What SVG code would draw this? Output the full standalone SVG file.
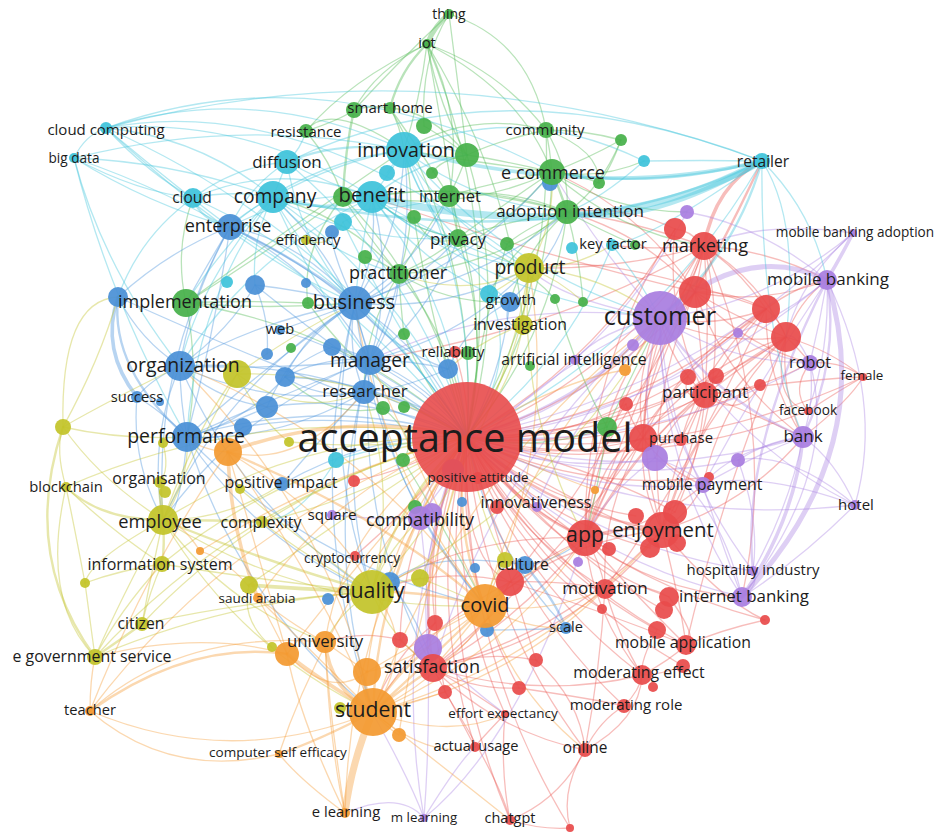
<svg xmlns="http://www.w3.org/2000/svg" width="937" height="832" viewBox="0 0 937 832">
<style>
.bg{fill:#ffffff}
#edges path{fill:none;stroke-width:1.3;stroke-opacity:.4;stroke-linecap:round}
#edges .w2{stroke-width:2.4}
#edges .w3{stroke-width:3.6}
#edges .w4{stroke-width:5}
#edges .w5{stroke-width:7}
.er{stroke:#ec5a55}.eg{stroke:#4fba52}.eb{stroke:#4b93dc}.ec{stroke:#43c6dd}.ey{stroke:#c2c32c}.eo{stroke:#f59d3a}.ep{stroke:#ad86e3}
circle{fill-opacity:.93}
.r circle{fill:#e84b4b}.g circle{fill:#47b04a}.b circle{fill:#4a90d6}.c circle{fill:#3ec3da}.y circle{fill:#c3c42a}.o circle{fill:#f39a32}.p circle{fill:#a97ee0}
text{font-family:"Open Sans","Liberation Sans",sans-serif;fill:#1c1c1c;text-anchor:middle}
</style>
<rect class="bg" width="937" height="832"/>

<g id="edges">
<g class="er">
<path d="M467 437Q614 377 704 246"/><path d="M467 437Q636 418 766 309"/><path d="M467 437Q641 435 786 337"/><path d="M467 437Q592 452 705 395"/>
<path class="w2" d="M467 437Q550 513 662 530"/><path class="w2" d="M467 437Q511 505 585 538"/><path d="M467 437Q546 573 686 645"/><path d="M467 437Q519 582 642 675"/>
<path d="M467 437Q505 595 624 706"/><path d="M467 437Q480 611 585 750"/><path d="M467 437Q431 634 510 820"/><path d="M467 437Q444 581 505 714"/>
<path d="M467 437Q425 593 475 747"/><path d="M467 437Q513 534 605 589"/><path class="w2" d="M467 437Q415 547 433 668"/><path d="M467 437Q674 466 863 377"/>
<path d="M467 437Q641 475 808 411"/><path d="M467 437Q603 399 695 292"/><path d="M467 437Q574 470 681 440"/><path d="M467 437Q555 464 643 438"/>
<path d="M467 437Q551 444 626 404"/><path d="M467 437Q560 560 669 597"/><path d="M467 437Q520 610 536 660"/><path d="M467 437Q540 500 636 516"/>
<path d="M467 437Q600 360 675 229"/><path d="M467 437Q460 560 510 582"/><path d="M467 437Q600 520 677 543"/><path d="M467 437Q600 470 675 512"/>
<path d="M467 437Q586 440 688 377"/><path d="M467 437Q601 444 716 376"/><path d="M467 437Q621 455 760 385"/><path d="M467 437Q582 493 709 477"/>
<path d="M467 437Q542 520 650 548"/><path d="M467 437Q521 514 609 549"/><path d="M467 437Q533 562 657 630"/><path d="M467 437Q541 584 683 666"/>
<path d="M467 437Q588 573 765 620"/><path d="M467 437Q423 525 435 623"/><path d="M467 437Q403 528 400 640"/><path d="M467 437Q418 561 445 692"/>
<path d="M467 437Q455 570 519 688"/><path d="M467 437Q460 648 570 828"/><path d="M467 437Q570 560 664 610"/><path d="M467 437Q520 560 602 609"/>
<path d="M660 318Q693 289 704 246"/><path d="M660 318Q629 424 662 530"/><path d="M660 318Q590 417 585 538"/><path d="M660 318Q681 310 695 292"/>
<path d="M660 318Q714 329 766 309"/><path d="M660 318Q720 346 786 337"/><path d="M660 318Q671 363 705 395"/><path d="M660 318Q633 375 643 438"/>
<path d="M827 280Q798 302 786 337"/><path d="M827 280Q798 285 766 309"/><path d="M827 280Q770 250 704 246"/>
<path d="M803 437Q745 410 705 395"/><path d="M803 437Q850 400 863 377"/><path d="M810 363Q790 390 808 411"/><path d="M810 363Q760 390 705 395"/><path d="M810 363Q840 360 863 377"/>
<path class="w3" d="M762 161Q715 185 704 246"/><path class="w2" d="M762 161Q730 230 695 292"/><path d="M567 212Q630 220 704 246"/>
<path class="w2" d="M585 538Q620 525 662 530"/><path d="M585 538Q600 560 605 589"/><path d="M585 538Q640 600 686 645"/><path d="M585 538Q600 545 609 549"/>
<path d="M585 538Q540 560 510 582"/><path d="M585 538Q520 620 433 668"/><path d="M662 530Q640 560 605 589"/><path d="M662 530Q680 600 686 645"/>
<path d="M662 530Q660 520 675 512"/><path d="M662 530Q650 540 650 548"/><path d="M662 530Q720 600 765 620"/><path d="M605 589Q620 640 642 675"/>
<path d="M605 589Q600 670 585 750"/><path d="M605 589Q640 580 669 597"/><path d="M686 645Q670 660 642 675"/><path d="M686 645Q720 630 765 620"/>
<path d="M642 675Q640 690 624 706"/><path d="M642 675Q660 675 683 666"/><path d="M624 706Q600 720 585 750"/><path d="M585 750Q560 790 570 828"/>
<path d="M585 750Q560 800 510 820"/><path d="M510 820Q540 830 570 828"/><path d="M505 714Q480 740 475 747"/><path d="M505 714Q470 690 433 668"/>
<path d="M505 714Q500 770 510 820"/><path d="M433 668Q450 700 475 747"/><path d="M433 668Q480 650 536 660"/><path d="M433 668Q470 690 519 688"/>
<path d="M433 668Q420 640 435 623"/><path d="M433 668Q410 650 400 640"/><path d="M510 582Q560 580 605 589"/><path d="M510 582Q600 610 686 645"/>
<path d="M433 668Q540 700 642 675"/><path d="M433 668Q530 650 605 589"/><path d="M536 660Q580 700 585 750"/><path d="M519 688Q600 700 624 706"/>
<path d="M445 692Q500 780 510 820"/><path d="M585 750Q640 720 642 675"/><path d="M669 597Q700 640 686 645"/><path d="M657 630Q640 660 642 675"/>
<path d="M704 246Q690 230 675 229"/><path d="M704 246Q700 270 695 292"/><path d="M704 246Q740 270 766 309"/><path d="M704 246Q760 280 786 337"/>
<path d="M704 246Q640 250 612 245"/><path d="M704 246Q620 270 529 268"/><path d="M704 246Q710 320 705 395"/><path d="M695 292Q730 290 766 309"/>
<path d="M695 292Q740 320 786 337"/><path d="M695 292Q700 340 705 395"/><path d="M766 309Q780 320 786 337"/><path d="M786 337Q800 350 810 363"/>
<path d="M786 337Q830 350 863 377"/><path d="M786 337Q750 360 705 395"/><path d="M786 337Q770 400 808 411"/><path d="M705 395Q690 420 681 440"/>
<path d="M705 395Q680 400 688 377"/><path d="M705 395Q710 380 716 376"/><path d="M705 395Q650 420 643 438"/><path d="M643 438Q660 440 681 440"/>
<path d="M643 438Q630 420 626 404"/><path d="M675 512Q700 460 705 395"/><path d="M585 538Q600 450 643 438"/><path d="M585 538Q650 430 705 395"/>
<path d="M662 530Q690 460 705 395"/><path d="M585 538Q640 390 704 246"/><path d="M662 530Q740 390 704 246"/><path d="M808 411Q840 390 863 377"/>
<path d="M705 395Q790 380 863 377"/><path d="M695 292Q520 250 372 197"/><path d="M766 309Q600 250 529 268"/><path d="M704 246Q560 330 370 360"/>
<path d="M355 556Q420 500 467 437"/><path d="M354 481Q410 470 467 437"/><path d="M455 352Q470 400 467 437"/><path d="M760 385Q740 420 705 395"/>
<path d="M695 292Q603 398 585 538"/><path d="M695 292Q643 406 662 530"/><path d="M695 292Q647 357 643 438"/><path d="M695 292Q727 381 803 437"/>
<path d="M695 292Q742 345 810 363"/><path d="M695 292Q763 306 827 280"/><path d="M695 292Q643 233 567 212"/><path d="M695 292Q641 210 552 172"/>
<path d="M766 309Q641 396 585 538"/><path d="M766 309Q681 404 662 530"/><path d="M766 309Q765 379 803 437"/><path d="M766 309Q685 355 643 438"/>
<path d="M766 309Q704 362 681 440"/><path d="M786 337Q655 407 585 538"/><path d="M786 337Q695 415 662 530"/><path d="M786 337Q699 366 643 438"/>
<path d="M786 337Q722 399 703 485"/><path d="M786 337Q780 390 803 437"/><path d="M643 438Q599 479 585 538"/><path d="M643 438Q639 487 662 530"/>
<path d="M643 438Q666 470 703 485"/><path d="M643 438Q601 508 605 589"/><path d="M585 538Q655 591 742 597"/><path d="M585 538Q652 529 703 485"/>
<path d="M585 538Q593 615 642 675"/><path d="M662 530Q689 514 703 485"/><path d="M662 530Q746 505 803 437"/><path d="M433 668Q484 636 510 582"/>
<path d="M433 668Q568 633 662 530"/><path d="M433 668Q497 732 585 750"/><path d="M510 582Q440 566 372 592"/><path d="M510 582Q422 626 373 712"/>
<path d="M435 623Q391 658 373 712"/><path d="M400 640Q362 630 325 642"/><path d="M585 538Q470 533 372 592"/><path d="M662 530Q562 541 485 606"/>
<path d="M704 246Q645 333 643 438"/><path d="M675 229Q584 370 585 538"/><path d="M675 229Q624 204 567 212"/><path d="M675 229Q665 317 705 395"/>
<path d="M705 395Q671 419 655 458"/><path d="M626 404Q585 465 585 538"/><path d="M704 246Q660 380 585 538"/><path d="M766 309Q690 470 605 589"/>
<path d="M704 246Q780 420 742 597"/><path d="M786 337Q720 500 686 645"/><path d="M695 292Q600 470 510 582"/><path d="M643 438Q560 560 433 668"/>
</g>

<g class="ep">
<path class="w2" d="M467 437Q581 406 660 318"/><path d="M467 437Q635 487 803 437"/><path d="M467 437Q670 412 827 280"/><path d="M467 437Q650 451 810 363"/>
<path d="M467 437Q578 496 703 485"/><path d="M467 437Q580 558 742 597"/><path d="M467 437Q431 470 420 518"/><path d="M467 437Q588 546 753 571"/>
<path d="M467 437Q651 529 855 505"/><path d="M467 437Q389 621 424 818"/><path d="M467 437Q691 393 853 233"/><path d="M467 437Q520 470 537 507"/>
<path d="M467 437Q611 358 687 212"/><path d="M467 437Q564 416 633 345"/><path d="M467 437Q618 426 738 333"/><path d="M467 437Q599 489 738 460"/>
<path d="M467 437Q558 476 655 458"/><path d="M467 437Q416 537 428 648"/>
<path class="w4" d="M827 280Q745 240 660 318"/><path class="w2" d="M660 318Q714 399 803 437"/><path d="M660 318Q728 363 810 363"/><path d="M660 318Q659 470 742 597"/>
<path d="M660 318Q729 441 855 505"/><path d="M660 318Q657 408 703 485"/><path d="M660 318Q667 458 753 571"/><path d="M660 318Q494 459 433 668"/>
<path d="M660 318Q509 296 370 360"/><path d="M660 318Q510 382 420 518"/><path d="M660 318Q769 304 853 233"/><path d="M660 318Q636 387 655 458"/>
<path d="M660 318Q600 330 575 360"/><path d="M660 318Q640 330 633 345"/><path d="M660 318Q560 300 529 268"/><path d="M660 318Q600 250 552 172"/>
<path class="w4" d="M827 280Q880 450 742 597"/><path class="w2" d="M827 280Q840 360 803 437"/><path d="M827 280Q820 322 810 363"/><path class="w3" d="M827 280Q843 253 853 233"/>
<path d="M827 280Q885 400 855 505"/><path d="M827 280Q830 350 808 411"/><path class="w2" d="M827 280Q740 450 753 571"/><path d="M827 280Q760 380 703 485"/>
<path d="M827 280Q760 225 687 212"/><path d="M827 280Q785 315 738 333"/><path d="M803 437Q815 400 810 363"/><path d="M803 437Q835 460 855 505"/>
<path class="w3" d="M803 437Q795 520 742 597"/><path d="M803 437Q790 505 753 571"/><path d="M803 437Q755 455 703 485"/><path d="M803 437Q770 440 738 460"/>
<path d="M810 363Q795 330 786 337"/><path d="M810 363Q760 355 738 333"/><path d="M855 505Q800 560 742 597"/><path d="M855 505Q790 450 738 460"/>
<path d="M855 505Q760 470 703 485"/><path d="M853 233Q800 280 786 337"/><path d="M853 233Q760 220 704 246"/><path d="M742 597Q760 585 753 571"/>
<path d="M424 818Q430 740 428 648"/><path d="M424 818Q460 760 475 747"/><path d="M424 818Q520 740 585 538"/><path d="M428 648Q430 600 420 518"/>
<path d="M428 648Q460 680 505 714"/><path d="M345 813Q400 790 424 818"/><path d="M372 712Q410 780 424 818"/><path d="M420 518Q380 520 332 515"/>
<path d="M655 458Q690 470 703 485"/><path d="M655 458Q600 500 585 538"/><path d="M703 485Q720 540 742 597"/><path d="M810 363Q840 470 742 597"/>
<path d="M655 458Q720 500 742 597"/><path d="M660 318Q560 440 537 507"/><path d="M738 460Q760 520 753 571"/><path d="M703 485Q730 450 803 437"/>
</g>

<g class="eg">
<path d="M467 437Q549 317 552 172"/><path d="M467 437Q551 339 567 212"/><path d="M467 437Q347 328 186 303"/><path d="M467 437Q478 261 390 108"/>
<path d="M467 437Q494 314 449 196"/><path d="M467 437Q492 336 458 238"/><path d="M467 437Q457 345 399 274"/><path d="M467 437Q553 295 546 130"/>
<path d="M467 437Q506 234 427 44"/><path d="M467 437Q509 296 467 155"/><path d="M467 437Q441 298 343 197"/><path d="M467 437Q538 453 607 427"/>
<path d="M467 437Q480 330 507 244"/><path d="M467 437Q430 320 414 217"/><path d="M467 437Q420 380 404 334"/><path d="M467 437Q370 390 308 303"/>
<path class="w4" d="M449 14Q435 25 427 44"/><path class="w2" d="M427 44Q400 70 390 108"/><path d="M427 44Q375 70 354 110"/><path d="M427 44Q420 100 404 150"/>
<path d="M427 44Q440 110 467 155"/><path d="M427 44Q465 120 449 196"/><path d="M427 44Q520 90 552 172"/><path d="M427 44Q500 70 546 130"/>
<path d="M449 14Q530 40 546 130"/><path d="M449 14Q460 100 467 155"/><path d="M449 14Q400 60 354 110"/><path d="M449 14Q420 60 424 126"/>
<path d="M427 44Q350 80 306 131"/><path d="M427 44Q455 200 458 238"/><path d="M427 44Q510 180 523 325"/><path d="M390 108Q370 105 354 110"/>
<path d="M354 110Q340 120 306 131"/><path class="w2" d="M354 110Q345 150 343 197"/><path d="M390 108Q400 125 404 150"/><path d="M390 108Q420 150 449 196"/>
<path d="M390 108Q430 110 467 155"/><path d="M424 126Q440 135 467 155"/><path d="M546 130Q550 150 552 172"/><path d="M546 130Q585 130 621 140"/>
<path d="M546 130Q500 140 467 155"/><path d="M546 130Q570 170 567 212"/><path d="M546 130Q600 150 599 183"/><path d="M621 140Q610 170 599 183"/>
<path d="M621 140Q600 190 567 212"/><path d="M621 140Q585 160 552 172"/><path class="w2" d="M552 172Q560 190 567 212"/><path d="M552 172Q580 175 599 183"/>
<path d="M552 172Q500 160 467 155"/><path d="M552 172Q500 180 449 196"/><path d="M552 172Q510 200 458 238"/><path d="M567 212Q510 220 458 238"/>
<path d="M567 212Q600 230 635 245"/><path d="M567 212Q530 225 507 244"/><path d="M567 212Q450 180 372 197"/><path d="M467 155Q460 175 449 196"/>
<path d="M467 155Q440 160 432 173"/><path d="M449 196Q455 220 458 238"/><path d="M458 238Q430 260 399 274"/><path d="M399 274Q380 260 365 257"/>
<path d="M399 274Q420 240 449 196"/><path d="M343 197Q370 240 399 274"/><path d="M343 197Q330 160 306 131"/><path d="M186 303Q240 300 308 303"/>
<path d="M186 303Q270 310 355 303"/><path d="M186 303Q200 370 187 437"/><path d="M186 303Q270 250 343 197"/><path d="M186 303Q300 220 404 150"/>
<path d="M546 130Q470 110 404 150"/><path d="M404 150Q460 160 552 172"/><path d="M372 197Q470 180 567 212"/><path d="M404 150Q330 100 306 131"/>
<path d="M607 427Q580 380 555 299"/><path d="M458 238Q520 260 555 299"/><path d="M567 212Q580 260 583 302"/><path d="M399 274Q400 300 404 334"/>
<path d="M414 217Q430 250 458 238"/><path d="M383 408Q420 440 403 460"/>
<path d="M399 274Q420 213 404 150"/><path d="M399 274Q348 217 273 197"/><path d="M399 274Q450 305 510 302"/><path d="M399 274Q364 328 364 392"/>
<path d="M399 274Q492 268 567 212"/><path d="M399 274Q491 246 552 172"/><path d="M567 212Q516 241 489 294"/><path d="M567 212Q525 249 510 302"/>
<path d="M567 212Q506 186 449 196"/><path d="M552 172Q600 180 644 161"/><path d="M552 172Q614 212 687 212"/><path d="M552 172Q617 232 704 246"/>
<path d="M552 172Q466 212 372 197"/><path d="M458 238Q409 230 372 197"/><path d="M186 303Q174 250 193 198"/><path d="M607 427Q630 380 660 318"/>
<path d="M607 427Q600 480 585 538"/><path d="M403 460Q440 520 485 606"/><path d="M383 408Q330 420 285 377"/><path d="M343 197Q300 250 308 303"/>
</g>

<g class="eb">
<path d="M467 437Q430 384 370 360"/><path d="M467 437Q431 353 355 303"/><path d="M467 437Q327 395 187 437"/><path d="M467 437Q334 358 180 366"/>
<path d="M467 437Q380 296 230 227"/><path d="M467 437Q501 376 510 302"/><path d="M467 437Q422 399 364 392"/><path d="M467 437Q384 380 285 377"/>
<path d="M467 437Q371 392 267 407"/><path d="M467 437Q412 372 332 347"/><path d="M467 437Q488 547 566 628"/><path d="M467 437Q380 430 282 484"/>
<path d="M467 437Q360 370 255 285"/><path d="M467 437Q380 360 280 330"/><path d="M467 437Q340 410 243 427"/><path d="M467 437Q300 380 118 297"/>
<path class="w3" d="M118 297Q100 350 137 397"/><path class="w2" d="M118 297Q110 370 187 437"/><path d="M118 297Q140 340 180 366"/><path d="M118 297Q170 250 230 227"/>
<path class="w2" d="M230 227Q300 260 355 303"/><path d="M230 227Q190 300 180 366"/><path d="M230 227Q215 330 187 437"/><path d="M230 227Q210 260 186 303"/>
<path d="M355 303Q360 330 370 360"/><path d="M355 303Q300 290 255 285"/><path d="M355 303Q310 320 280 330"/><path d="M355 303Q260 320 180 366"/>
<path d="M355 303Q260 370 187 437"/><path d="M355 303Q300 240 230 227"/><path d="M370 360Q365 375 364 392"/><path d="M370 360Q350 350 332 347"/>
<path d="M370 360Q280 370 180 366"/><path d="M370 360Q270 400 187 437"/><path d="M370 360Q410 360 448 369"/><path d="M180 366Q180 400 187 437"/>
<path d="M180 366Q150 380 137 397"/><path d="M187 437Q160 410 137 397"/><path d="M187 437Q240 420 267 407"/><path d="M187 437Q230 440 243 427"/>
<path d="M255 285Q270 320 267 354"/><path d="M285 377Q300 360 332 347"/><path d="M364 392Q320 400 285 377"/><path d="M510 302Q500 330 523 325"/>
<path d="M448 369Q400 390 364 392"/><path d="M364 392Q320 440 282 484"/><path d="M390 582Q430 550 525 565"/><path d="M487 630Q530 630 566 628"/>
<path class="w2" d="M566 628Q555 600 525 565"/><path d="M355 303Q330 250 332 232"/><path d="M180 366Q230 330 255 285"/><path d="M187 437Q180 520 163 520"/>
<path d="M355 303Q402 234 404 150"/><path d="M355 303Q379 252 372 197"/><path d="M355 303Q381 295 399 274"/><path d="M355 303Q416 286 458 238"/>
<path d="M355 303Q447 312 529 268"/><path d="M355 303Q346 349 364 392"/><path d="M355 303Q392 350 448 369"/><path d="M355 303Q308 329 285 377"/>
<path d="M355 303Q295 342 267 407"/><path d="M355 303Q226 383 163 520"/><path d="M355 303Q320 450 372 592"/><path d="M355 303Q374 474 485 606"/>
<path d="M355 303Q302 510 373 712"/><path d="M355 303Q418 264 449 196"/><path d="M355 303Q474 289 567 212"/><path d="M355 303Q473 267 552 172"/>
<path d="M370 360Q395 279 372 197"/><path d="M370 360Q418 260 404 150"/><path d="M370 360Q346 264 273 197"/><path d="M370 360Q397 321 399 274"/>
<path d="M370 360Q432 312 458 238"/><path d="M370 360Q463 338 529 268"/><path d="M370 360Q324 356 285 377"/><path d="M370 360Q242 409 163 520"/>
<path d="M370 360Q336 476 372 592"/><path d="M370 360Q320 272 230 227"/><path d="M370 360Q319 536 373 712"/><path d="M370 360Q391 500 485 606"/>
<path d="M370 360Q355 523 433 668"/><path d="M180 366Q148 440 163 520"/><path d="M180 366Q242 508 372 592"/><path d="M180 366Q217 400 267 407"/>
<path d="M180 366Q268 407 364 392"/><path d="M187 437Q256 542 372 592"/><path d="M187 437Q310 566 485 606"/><path d="M187 437Q239 602 373 712"/>
<path d="M187 437Q282 441 364 392"/><path d="M187 437Q245 422 285 377"/><path d="M230 227Q152 364 163 520"/><path d="M137 397Q131 462 163 520"/>
<path d="M510 302Q560 250 567 212"/><path d="M448 369Q470 320 510 302"/><path d="M525 565Q560 560 585 538"/><path d="M390 582Q420 620 433 668"/>
</g>

<g class="ec">
<path d="M467 437Q478 284 404 150"/><path d="M467 437Q455 303 372 197"/><path d="M467 437Q406 288 273 197"/><path d="M467 437Q656 343 762 161"/>
<path d="M467 437Q567 363 612 245"/><path d="M467 437Q366 276 193 198"/><path d="M467 437Q418 272 287 162"/><path d="M467 437Q333 228 106 128"/>
<path d="M467 437Q312 239 74 158"/><path d="M467 437Q400 440 336 460"/><path d="M467 437Q520 360 489 294"/><path d="M467 437Q380 300 343 222"/>
<path class="w5" d="M762 161Q600 250 372 197"/><path class="w4" d="M762 161Q640 230 567 212"/><path class="w3" d="M762 161Q600 200 404 150"/><path class="w2" d="M762 161Q560 260 273 197"/>
<path class="w2" d="M762 161Q650 190 552 172"/><path class="w2" d="M660 318Q735 255 762 161"/><path d="M762 161Q800 220 786 337"/><path d="M762 161Q812 210 827 280"/>
<path d="M762 161Q760 330 803 437"/><path d="M762 161Q700 160 644 161"/><path d="M762 161Q650 240 612 245"/><path d="M762 161Q434 40 106 128"/>
<path d="M106 128Q320 50 552 172"/><path d="M106 128Q255 81 404 150"/><path d="M106 128Q200 137 273 197"/><path d="M106 128Q251 117 372 197"/>
<path d="M106 128Q85 135 74 158"/><path d="M106 128Q150 175 193 198"/><path d="M106 128Q182 192 230 227"/><path d="M106 128Q250 260 355 303"/>
<path d="M74 158Q176 162 273 197"/><path d="M74 158Q137 192 193 198"/><path d="M74 158Q241 116 404 150"/><path d="M74 158Q150 205 230 227"/>
<path d="M74 158Q103 268 180 366"/><path d="M74 158Q110 302 187 437"/><path d="M762 161Q500 60 287 162"/><path d="M106 128Q300 90 529 268"/>
<path class="w2" d="M287 162Q340 140 404 150"/><path d="M287 162Q280 180 273 197"/><path d="M287 162Q330 185 372 197"/><path class="w2" d="M273 197Q320 215 372 197"/>
<path d="M273 197Q230 190 193 198"/><path d="M273 197Q340 160 404 150"/><path class="w2" d="M193 198Q200 220 230 227"/><path d="M193 198Q280 160 372 197"/>
<path d="M372 197Q395 165 404 150"/><path d="M372 197Q420 160 467 155"/><path d="M404 150Q430 140 467 155"/><path d="M372 197Q360 250 355 303"/>
<path d="M273 197Q310 260 355 303"/><path d="M273 197Q240 215 230 227"/><path d="M273 197Q320 300 370 360"/><path d="M404 150Q520 100 644 161"/>
<path d="M372 197Q460 250 529 268"/><path d="M273 197Q220 250 186 303"/><path d="M273 197Q200 280 180 366"/><path d="M372 197Q360 215 343 222"/>
<path d="M404 150Q395 160 387 173"/><path d="M489 294Q500 300 510 302"/><path d="M644 161Q600 200 567 212"/>
<path d="M273 197Q194 304 187 437"/><path d="M273 197Q359 245 458 238"/><path d="M273 197Q325 254 399 274"/><path d="M273 197Q361 223 449 196"/>
<path d="M273 197Q251 238 255 285"/><path d="M404 150Q449 228 529 268"/><path d="M404 150Q418 202 458 238"/><path d="M404 150Q476 205 567 212"/>
<path d="M404 150Q305 162 230 227"/><path d="M404 150Q507 272 660 318"/><path d="M404 150Q434 242 510 302"/><path d="M372 197Q440 256 529 268"/>
<path d="M372 197Q409 230 458 238"/><path d="M372 197Q296 191 230 227"/><path d="M372 197Q251 253 180 366"/><path d="M372 197Q425 270 510 302"/>
<path d="M372 197Q498 301 660 318"/><path d="M287 162Q249 186 230 227"/><path d="M287 162Q300 243 355 303"/><path d="M287 162Q235 166 193 198"/>
<path d="M287 162Q301 149 306 131"/><path d="M193 198Q140 236 118 297"/><path d="M336 460Q300 520 262 522"/><path d="M612 245Q640 280 660 318"/>
</g>

<g class="ey">
<path class="w2" d="M467 437Q396 500 372 592"/><path d="M467 437Q302 433 163 520"/><path d="M467 437Q523 362 529 268"/><path d="M467 437Q248 491 95 657"/>
<path d="M467 437Q295 455 162 564"/><path d="M467 437Q259 402 66 487"/><path d="M467 437Q276 482 142 624"/><path d="M467 437Q512 389 523 325"/>
<path d="M467 437Q361 371 237 374"/><path d="M467 437Q380 450 289 442"/><path d="M467 437Q450 520 420 578"/><path d="M467 437Q480 520 505 560"/>
<path d="M467 437Q340 520 249 585"/><path d="M467 437Q360 500 262 522"/>
<path class="w3" d="M163 520Q160 500 160 482"/><path class="w2" d="M163 520Q100 520 66 487"/><path class="w2" d="M163 520Q165 545 162 564"/><path class="w2" d="M163 520Q220 520 262 522"/>
<path class="w2" d="M163 520Q260 560 372 592"/><path d="M163 520Q190 480 187 437"/><path d="M163 520Q200 420 237 374"/><path d="M163 520Q90 560 85 583"/>
<path d="M163 520Q120 600 95 657"/><path d="M163 520Q150 580 142 624"/><path d="M66 487Q55 450 63 427"/><path d="M66 487Q75 530 85 583"/>
<path d="M66 487Q110 530 162 564"/><path class="w2" d="M63 427Q20 555 95 657"/><path d="M63 427Q110 400 180 366"/><path d="M63 427Q120 440 187 437"/>
<path d="M63 427Q100 480 163 520"/><path d="M63 427Q100 360 118 297"/><path class="w2" d="M95 657Q120 640 142 624"/><path d="M95 657Q90 620 85 583"/>
<path d="M95 657Q120 610 162 564"/><path d="M85 583Q120 570 162 564"/><path d="M142 624Q150 590 162 564"/><path d="M142 624Q250 600 372 592"/>
<path d="M95 657Q230 600 372 592"/><path d="M162 564Q260 580 372 592"/><path class="w3" d="M372 592Q320 590 249 585"/><path d="M372 592Q310 560 262 522"/>
<path d="M372 592Q400 580 420 578"/><path d="M372 592Q380 560 420 518"/><path d="M372 592Q300 540 240 489"/><path d="M237 374Q260 420 289 442"/>
<path d="M237 374Q200 440 163 520"/><path d="M529 268Q525 300 523 325"/><path d="M529 268Q560 280 583 302"/><path d="M529 268Q500 290 489 294"/>
<path d="M529 268Q470 300 399 274"/><path d="M523 325Q480 340 448 369"/><path d="M505 560Q490 580 485 606"/><path d="M420 578Q450 590 485 606"/>
<path d="M249 585Q240 620 272 647"/><path d="M660 318Q602 273 529 268"/><path d="M163 443Q170 470 160 482"/><path d="M306 240Q330 250 343 222"/>
<path d="M163 520Q239 648 373 712"/><path d="M163 520Q226 605 325 642"/><path d="M163 520Q311 611 485 606"/><path d="M163 520Q228 520 282 484"/>
<path d="M372 592Q398 491 364 392"/><path d="M372 592Q499 454 529 268"/><path d="M372 592Q557 498 660 318"/><path d="M372 592Q391 639 433 668"/>
<path d="M372 592Q341 610 325 642"/><path d="M529 268Q555 224 552 172"/><path d="M529 268Q517 411 585 538"/><path d="M529 268Q574 269 612 245"/>
<path d="M237 374Q300 330 355 303"/><path d="M237 374Q300 420 364 392"/><path d="M63 427Q60 300 118 297"/><path d="M66 487Q40 600 95 657"/>
</g>

<g class="eo">
<path class="w2" d="M467 437Q378 560 373 712"/><path class="w2" d="M467 437Q451 524 485 606"/><path d="M467 437Q344 518 325 642"/><path d="M467 437Q350 606 345 813"/>
<path d="M467 437Q338 486 258 598"/><path d="M467 437Q237 517 90 711"/><path class="w3" d="M467 437Q345 409 228 452"/><path d="M467 437Q382 540 367 672"/>
<path d="M660 318Q457 472 373 712"/><path d="M660 318Q529 436 485 606"/><path d="M467 437Q540 470 595 490"/><path d="M467 437Q560 380 625 370"/>
<path d="M467 437Q360 560 287 654"/><path d="M467 437Q410 650 399 735"/><path d="M467 437Q330 600 279 754"/><path d="M467 437Q330 470 200 551"/>
<path class="w5" d="M373 712Q352 760 345 813"/><path class="w3" d="M373 712Q330 690 325 642"/><path class="w3" d="M373 712Q320 680 287 654"/><path class="w3" d="M373 712Q360 690 367 672"/>
<path class="w2" d="M373 712Q320 740 279 754"/><path class="w2" d="M90 711Q190 640 287 654"/><path d="M90 711Q180 630 325 642"/><path d="M90 711Q170 780 279 754"/>
<path d="M90 711Q230 770 373 712"/><path d="M90 711Q90 680 95 657"/><path class="w2" d="M373 712Q430 660 485 606"/><path class="w2" d="M373 712Q400 690 433 668"/>
<path class="w2" d="M373 712Q390 680 428 648"/><path d="M373 712Q300 640 258 598"/><path d="M373 712Q390 730 399 735"/><path d="M373 712Q420 700 445 692"/>
<path d="M373 712Q450 740 505 714"/><path d="M373 712Q430 760 475 747"/><path d="M373 712Q420 640 372 592"/><path d="M373 712Q460 780 510 820"/>
<path d="M345 813Q300 720 287 654"/><path d="M345 813Q300 780 279 754"/><path d="M345 813Q330 720 325 642"/><path d="M287 654Q270 620 258 598"/>
<path d="M287 654Q200 630 95 657"/><path class="w3" d="M228 452Q230 530 258 598"/><path d="M228 452Q260 560 287 654"/><path d="M258 598Q300 630 325 642"/>
<path d="M485 606Q450 650 433 668"/><path d="M485 606Q530 570 585 538"/><path class="w2" d="M485 606Q500 590 510 582"/><path d="M485 606Q440 620 428 648"/>
<path class="w2" d="M485 606Q420 590 372 592"/><path d="M485 606Q420 660 367 672"/><path class="w2" d="M485 606Q390 520 228 452"/><path d="M200 551Q230 560 258 598"/>
<path d="M200 551Q180 520 163 520"/><path d="M228 452Q340 520 372 592"/><path d="M228 452Q200 450 187 437"/><path d="M367 672Q350 660 325 642"/>
<path d="M373 712Q328 510 180 366"/><path d="M373 712Q505 657 585 538"/><path d="M373 712Q545 664 662 530"/><path d="M373 712Q507 685 605 589"/>
<path d="M373 712Q461 668 510 582"/><path d="M485 606Q368 440 180 366"/><path d="M485 606Q547 615 605 589"/><path d="M485 606Q513 693 585 750"/>
<path d="M485 606Q522 629 566 628"/><path d="M485 606Q558 443 529 268"/><path d="M485 606Q380 470 355 303"/><path d="M485 606Q420 470 370 360"/>
<path d="M228 452Q300 470 364 392"/><path d="M228 452Q330 600 373 712"/><path d="M287 654Q330 700 367 672"/><path d="M325 642Q330 750 345 813"/>
<path d="M367 672Q420 640 485 606"/><path d="M228 452Q150 560 90 711"/>
</g>
</g>

<g id="nodes">
<!-- small unlabeled keywords -->
<g id="n-k01" class="r"><circle cx="675" cy="229" r="11"/></g>
<g id="n-k02" class="r"><circle cx="695" cy="292" r="16"/></g>
<g id="n-k03" class="r"><circle cx="766" cy="309" r="14"/></g>
<g id="n-k04" class="r"><circle cx="786" cy="337" r="15"/></g>
<g id="n-k05" class="r"><circle cx="688" cy="377" r="8"/></g>
<g id="n-k06" class="r"><circle cx="716" cy="376" r="8"/></g>
<g id="n-k07" class="r"><circle cx="760" cy="385" r="6"/></g>
<g id="n-k08" class="r"><circle cx="626" cy="404" r="7"/></g>
<g id="n-k09" class="r"><circle cx="643" cy="438" r="14"/></g>
<g id="n-k10" class="r"><circle cx="709" cy="477" r="5"/></g>
<g id="n-k11" class="r"><circle cx="497" cy="507" r="7"/></g>
<g id="n-k12" class="r"><circle cx="636" cy="516" r="8"/></g>
<g id="n-k13" class="r"><circle cx="675" cy="512" r="12"/></g>
<g id="n-k14" class="r"><circle cx="677" cy="543" r="9"/></g>
<g id="n-k15" class="r"><circle cx="650" cy="548" r="10"/></g>
<g id="n-k16" class="r"><circle cx="609" cy="549" r="7"/></g>
<g id="n-k17" class="r"><circle cx="602" cy="609" r="5"/></g>
<g id="n-k18" class="r"><circle cx="669" cy="597" r="10"/></g>
<g id="n-k19" class="r"><circle cx="664" cy="610" r="9"/></g>
<g id="n-k20" class="r"><circle cx="657" cy="630" r="9"/></g>
<g id="n-k21" class="r"><circle cx="765" cy="620" r="5"/></g>
<g id="n-k22" class="r"><circle cx="536" cy="660" r="7"/></g>
<g id="n-k23" class="r"><circle cx="519" cy="688" r="7"/></g>
<g id="n-k24" class="r"><circle cx="683" cy="666" r="7"/></g>
<g id="n-k25" class="r"><circle cx="653" cy="687" r="5"/></g>
<g id="n-k26" class="r"><circle cx="570" cy="828" r="4"/></g>
<g id="n-k27" class="r"><circle cx="510" cy="582" r="14"/></g>
<g id="n-k28" class="r"><circle cx="435" cy="623" r="8"/></g>
<g id="n-k29" class="r"><circle cx="400" cy="640" r="8"/></g>
<g id="n-k30" class="r"><circle cx="445" cy="692" r="7"/></g>
<g id="n-k31" class="r"><circle cx="354" cy="481" r="6"/></g>
<g id="n-k32" class="p"><circle cx="687" cy="212" r="7"/></g>
<g id="n-k33" class="p"><circle cx="633" cy="345" r="6"/></g>
<g id="n-k34" class="p"><circle cx="738" cy="333" r="5"/></g>
<g id="n-k35" class="p"><circle cx="655" cy="458" r="13"/></g>
<g id="n-k36" class="p"><circle cx="738" cy="460" r="7"/></g>
<g id="n-k37" class="p"><circle cx="428" cy="648" r="14"/></g>
<g id="n-k38" class="p"><circle cx="432" cy="513" r="10"/></g>
<g id="n-k39" class="p"><circle cx="578" cy="562" r="5"/></g>
<g id="n-k40" class="p"><circle cx="453" cy="470" r="11"/></g>
<g id="n-k41" class="g"><circle cx="354" cy="110" r="8"/></g>
<g id="n-k42" class="g"><circle cx="424" cy="126" r="8"/></g>
<g id="n-k43" class="g"><circle cx="621" cy="140" r="6"/></g>
<g id="n-k44" class="g"><circle cx="467" cy="155" r="12"/></g>
<g id="n-k45" class="g"><circle cx="599" cy="183" r="6"/></g>
<g id="n-k46" class="g"><circle cx="432" cy="173" r="6"/></g>
<g id="n-k47" class="g"><circle cx="343" cy="197" r="10"/></g>
<g id="n-k48" class="g"><circle cx="414" cy="217" r="7"/></g>
<g id="n-k49" class="g"><circle cx="507" cy="244" r="7"/></g>
<g id="n-k50" class="g"><circle cx="635" cy="245" r="5"/></g>
<g id="n-k51" class="g"><circle cx="365" cy="257" r="7"/></g>
<g id="n-k52" class="g"><circle cx="308" cy="303" r="6"/></g>
<g id="n-k53" class="g"><circle cx="555" cy="299" r="5"/></g>
<g id="n-k54" class="g"><circle cx="583" cy="302" r="5"/></g>
<g id="n-k55" class="g"><circle cx="404" cy="334" r="6"/></g>
<g id="n-k56" class="g"><circle cx="291" cy="348" r="5"/></g>
<g id="n-k57" class="g"><circle cx="383" cy="408" r="7"/></g>
<g id="n-k58" class="g"><circle cx="404" cy="407" r="6"/></g>
<g id="n-k59" class="g"><circle cx="403" cy="460" r="7"/></g>
<g id="n-k60" class="g"><circle cx="468" cy="353" r="7"/></g>
<g id="n-k61" class="g"><circle cx="530" cy="366" r="5"/></g>
<g id="n-k62" class="g"><circle cx="607" cy="427" r="10"/></g>
<g id="n-k63" class="g"><circle cx="415" cy="507" r="7"/></g>
<g id="n-k64" class="b"><circle cx="118" cy="297" r="10"/></g>
<g id="n-k65" class="b"><circle cx="255" cy="285" r="10"/></g>
<g id="n-k66" class="b"><circle cx="306" cy="283" r="5"/></g>
<g id="n-k67" class="b"><circle cx="267" cy="354" r="6"/></g>
<g id="n-k68" class="b"><circle cx="332" cy="347" r="9"/></g>
<g id="n-k69" class="b"><circle cx="285" cy="377" r="10"/></g>
<g id="n-k70" class="b"><circle cx="267" cy="407" r="11"/></g>
<g id="n-k71" class="b"><circle cx="243" cy="427" r="9"/></g>
<g id="n-k72" class="b"><circle cx="160" cy="402" r="4"/></g>
<g id="n-k73" class="b"><circle cx="448" cy="369" r="10"/></g>
<g id="n-k74" class="b"><circle cx="332" cy="232" r="7"/></g>
<g id="n-k75" class="b"><circle cx="550" cy="183" r="8"/></g>
<g id="n-k76" class="b"><circle cx="462" cy="502" r="5"/></g>
<g id="n-k77" class="b"><circle cx="475" cy="568" r="5"/></g>
<g id="n-k78" class="b"><circle cx="487" cy="630" r="7"/></g>
<g id="n-k79" class="b"><circle cx="390" cy="582" r="10"/></g>
<g id="n-k80" class="b"><circle cx="328" cy="599" r="6"/></g>
<g id="n-k81" class="c"><circle cx="387" cy="173" r="8"/></g>
<g id="n-k82" class="c"><circle cx="343" cy="222" r="9"/></g>
<g id="n-k83" class="c"><circle cx="644" cy="161" r="6"/></g>
<g id="n-k84" class="c"><circle cx="572" cy="248" r="6"/></g>
<g id="n-k85" class="c"><circle cx="336" cy="460" r="8"/></g>
<g id="n-k86" class="c"><circle cx="489" cy="294" r="9"/></g>
<g id="n-k87" class="c"><circle cx="227" cy="282" r="6"/></g>
<g id="n-k88" class="y"><circle cx="237" cy="374" r="14"/></g>
<g id="n-k89" class="y"><circle cx="63" cy="427" r="8"/></g>
<g id="n-k90" class="y"><circle cx="165" cy="492" r="6"/></g>
<g id="n-k91" class="y"><circle cx="163" cy="443" r="5"/></g>
<g id="n-k92" class="y"><circle cx="289" cy="442" r="5"/></g>
<g id="n-k93" class="y"><circle cx="240" cy="489" r="5"/></g>
<g id="n-k94" class="y"><circle cx="85" cy="583" r="5"/></g>
<g id="n-k95" class="y"><circle cx="420" cy="578" r="9"/></g>
<g id="n-k96" class="y"><circle cx="505" cy="560" r="8"/></g>
<g id="n-k97" class="y"><circle cx="249" cy="585" r="9"/></g>
<g id="n-k98" class="y"><circle cx="272" cy="647" r="5"/></g>
<g id="n-k99" class="y"><circle cx="340" cy="708" r="6"/></g>
<g id="n-k100" class="o"><circle cx="367" cy="672" r="14"/></g>
<g id="n-k101" class="o"><circle cx="287" cy="654" r="12"/></g>
<g id="n-k102" class="o"><circle cx="399" cy="735" r="7"/></g>
<g id="n-k103" class="o"><circle cx="228" cy="452" r="14"/></g>
<g id="n-k104" class="o"><circle cx="200" cy="551" r="4"/></g>
<g id="n-k105" class="o"><circle cx="595" cy="490" r="4"/></g>
<g id="n-k106" class="o"><circle cx="625" cy="370" r="6"/></g>

<!-- central keyword -->
<g id="n-acceptance-model" class="r"><circle cx="467" cy="437" r="55" style="fill-opacity:.9"/><text x="465" y="452" font-size="39.6">acceptance model</text></g>

<!-- labelled keywords -->
<g id="n-thing" class="g"><circle cx="449" cy="14" r="5"/><text x="449" y="19" font-size="14">thing</text></g>
<g id="n-iot" class="g"><circle cx="427" cy="44" r="5"/><text x="427" y="48" font-size="14.5">iot</text></g>
<g id="n-smart-home" class="g"><circle cx="390" cy="108" r="6"/><text x="390" y="113" font-size="15">smart home</text></g>
<g id="n-resistance" class="g"><circle cx="306" cy="131" r="7"/><text x="306" y="137" font-size="15">resistance</text></g>
<g id="n-community" class="g"><circle cx="546" cy="130" r="8"/><text x="545" y="135" font-size="15">community</text></g>
<g id="n-cloud-computing" class="c"><circle cx="106" cy="128" r="6"/><text x="106" y="135" font-size="15">cloud computing</text></g>
<g id="n-big-data" class="c"><circle cx="74" cy="158" r="5"/><text x="74" y="163" font-size="13.6">big data</text></g>
<g id="n-efficiency" class="y"><circle cx="306" cy="240" r="5"/><text x="308" y="245" font-size="14.8">efficiency</text></g>
<g id="n-key-factor" class="c"><circle cx="612" cy="245" r="6"/><text x="613" y="249" font-size="14.7">key factor</text></g>
<g id="n-mobile-banking-adoption" class="p"><circle cx="853" cy="233" r="4"/><text x="855" y="237" font-size="13.6">mobile banking adoption</text></g>
<g id="n-web" class="b"><circle cx="280" cy="330" r="5"/><text x="280" y="334" font-size="14.7">web</text></g>
<g id="n-reliability" class="r"><circle cx="455" cy="352" r="6"/><text x="453" y="357" font-size="14.8">reliability</text></g>
<g id="n-artificial-intelligence" class="p"><circle cx="575" cy="360" r="5"/><text x="574" y="365" font-size="15.7">artificial intelligence</text></g>
<g id="n-female" class="r"><circle cx="863" cy="377" r="4"/><text x="862" y="380" font-size="13.4">female</text></g>
<g id="n-success" class="b"><circle cx="137" cy="397" r="6"/><text x="137" y="402" font-size="14.7">success</text></g>
<g id="n-facebook" class="r"><circle cx="808" cy="411" r="4"/><text x="808" y="415" font-size="13.6">facebook</text></g>
<g id="n-purchase" class="r"><circle cx="681" cy="440" r="6"/><text x="681" y="443" font-size="14.8">purchase</text></g>
<g id="n-positive-attitude" class="r"><circle cx="478" cy="478" r="6"/><text x="478" y="482" font-size="13.4">positive attitude</text></g>
<g id="n-organisation" class="y"><circle cx="160" cy="482" r="6"/><text x="159" y="484" font-size="16">organisation</text></g>
<g id="n-positive-impact" class="b"><circle cx="282" cy="484" r="7"/><text x="281" y="488" font-size="16">positive impact</text></g>
<g id="n-blockchain" class="y"><circle cx="66" cy="487" r="5"/><text x="66" y="492" font-size="14.8">blockchain</text></g>
<g id="n-hotel" class="p"><circle cx="855" cy="505" r="5"/><text x="856" y="510" font-size="15">hotel</text></g>
<g id="n-innovativeness" class="p"><circle cx="537" cy="507" r="5"/><text x="536" y="508" font-size="16">innovativeness</text></g>
<g id="n-square" class="p"><circle cx="332" cy="515" r="5"/><text x="332" y="520" font-size="15.2">square</text></g>
<g id="n-complexity" class="y"><circle cx="262" cy="522" r="6"/><text x="261" y="528" font-size="16">complexity</text></g>
<g id="n-cryptocurrency" class="r"><circle cx="355" cy="556" r="5"/><text x="352" y="563" font-size="13.7">cryptocurrency</text></g>
<g id="n-hospitality-industry" class="p"><circle cx="753" cy="571" r="5"/><text x="753" y="575" font-size="14.9">hospitality industry</text></g>
<g id="n-saudi-arabia" class="o"><circle cx="258" cy="598" r="5"/><text x="257" y="603" font-size="13.5">saudi arabia</text></g>
<g id="n-scale" class="b"><circle cx="566" cy="628" r="6"/><text x="566" y="632" font-size="14.6">scale</text></g>
<g id="n-citizen" class="y"><circle cx="142" cy="624" r="7"/><text x="141" y="629" font-size="15.7">citizen</text></g>
<g id="n-moderating-role" class="r"><circle cx="624" cy="706" r="7"/><text x="626" y="710" font-size="15">moderating role</text></g>
<g id="n-teacher" class="o"><circle cx="90" cy="711" r="5"/><text x="90" y="715" font-size="14.7">teacher</text></g>
<g id="n-effort-expectancy" class="r"><circle cx="505" cy="714" r="4"/><text x="503" y="718" font-size="13.5">effort expectancy</text></g>
<g id="n-actual-usage" class="r"><circle cx="475" cy="747" r="5"/><text x="476" y="751" font-size="14.6">actual usage</text></g>
<g id="n-online" class="r"><circle cx="585" cy="750" r="7"/><text x="585" y="753" font-size="15.4">online</text></g>
<g id="n-computer-self-efficacy" class="o"><circle cx="279" cy="754" r="4"/><text x="278" y="757" font-size="13.5">computer self efficacy</text></g>
<g id="n-e-learning" class="o"><circle cx="345" cy="813" r="5"/><text x="346" y="817" font-size="14.8">e learning</text></g>
<g id="n-m-learning" class="p"><circle cx="424" cy="818" r="4"/><text x="424" y="822" font-size="13.3">m learning</text></g>
<g id="n-chatgpt" class="r"><circle cx="510" cy="820" r="5"/><text x="510" y="823" font-size="14.5">chatgpt</text></g>
<g id="n-retailer" class="c"><circle cx="762" cy="161" r="8"/><text x="763" y="167" font-size="15.6">retailer</text></g>
<g id="n-privacy" class="g"><circle cx="458" cy="238" r="9"/><text x="458" y="245" font-size="17">privacy</text></g>
<g id="n-investigation" class="y"><circle cx="523" cy="325" r="10"/><text x="520" y="330" font-size="15.8">investigation</text></g>
<g id="n-growth" class="b"><circle cx="510" cy="302" r="10"/><text x="511" y="305" font-size="15.3">growth</text></g>
<g id="n-robot" class="p"><circle cx="810" cy="363" r="8"/><text x="810" y="368" font-size="16.3">robot</text></g>
<g id="n-mobile-payment" class="p"><circle cx="703" cy="485" r="8"/><text x="702" y="490" font-size="15.9">mobile payment</text></g>
<g id="n-culture" class="b"><circle cx="525" cy="565" r="9"/><text x="523" y="570" font-size="15.7">culture</text></g>
<g id="n-information-system" class="y"><circle cx="162" cy="564" r="8"/><text x="160" y="570" font-size="16">information system</text></g>
<g id="n-e-government-service" class="y"><circle cx="95" cy="657" r="8"/><text x="92" y="662" font-size="15.9">e government service</text></g>
<g id="n-cloud" class="c"><circle cx="193" cy="198" r="10"/><text x="192" y="203" font-size="15.5">cloud</text></g>
<g id="n-mobile-banking" class="p"><circle cx="827" cy="280" r="10"/><text x="828" y="285" font-size="17">mobile banking</text></g>
<g id="n-practitioner" class="g"><circle cx="399" cy="274" r="10"/><text x="398" y="279" font-size="18">practitioner</text></g>
<g id="n-motivation" class="r"><circle cx="605" cy="589" r="10"/><text x="605" y="594" font-size="17.1">motivation</text></g>
<g id="n-internet-banking" class="p"><circle cx="742" cy="597" r="10"/><text x="744" y="602" font-size="16.9">internet banking</text></g>
<g id="n-mobile-application" class="r"><circle cx="686" cy="645" r="10"/><text x="683" y="648" font-size="15.8">mobile application</text></g>
<g id="n-moderating-effect" class="r"><circle cx="642" cy="675" r="10"/><text x="639" y="678" font-size="15.8">moderating effect</text></g>
<g id="n-internet" class="g"><circle cx="449" cy="196" r="11"/><text x="450" y="202" font-size="16.6">internet</text></g>
<g id="n-bank" class="p"><circle cx="803" cy="437" r="11"/><text x="803" y="442" font-size="17">bank</text></g>
<g id="n-university" class="o"><circle cx="325" cy="642" r="11"/><text x="325" y="647" font-size="16.8">university</text></g>
<g id="n-diffusion" class="c"><circle cx="287" cy="162" r="12"/><text x="287" y="168" font-size="17">diffusion</text></g>
<g id="n-adoption-intention" class="g"><circle cx="567" cy="212" r="12"/><text x="570" y="217" font-size="17">adoption intention</text></g>
<g id="n-researcher" class="b"><circle cx="364" cy="392" r="12"/><text x="365" y="397" font-size="17">researcher</text></g>
<g id="n-compatibility" class="p"><circle cx="420" cy="518" r="12"/><text x="420" y="526" font-size="18">compatibility</text></g>
<g id="n-participant" class="r"><circle cx="705" cy="395" r="13"/><text x="705" y="398" font-size="17">participant</text></g>
<g id="n-e-commerce" class="g"><circle cx="552" cy="172" r="13"/><text x="553" y="179" font-size="18">e commerce</text></g>
<g id="n-enterprise" class="b"><circle cx="230" cy="227" r="13"/><text x="228" y="232" font-size="18">enterprise</text></g>
<g id="n-marketing" class="r"><circle cx="704" cy="246" r="14"/><text x="705" y="252" font-size="18.2">marketing</text></g>
<g id="n-implementation" class="g"><circle cx="186" cy="303" r="14"/><text x="185" y="308" font-size="18">implementation</text></g>
<g id="n-satisfaction" class="r"><circle cx="433" cy="668" r="14"/><text x="432" y="673" font-size="18.1">satisfaction</text></g>
<g id="n-product" class="y"><circle cx="529" cy="268" r="15"/><text x="530" y="274" font-size="19.3">product</text></g>
<g id="n-manager" class="b"><circle cx="370" cy="360" r="15"/><text x="370" y="367" font-size="19.2">manager</text></g>
<g id="n-organization" class="b"><circle cx="180" cy="366" r="15"/><text x="183" y="372" font-size="19.5">organization</text></g>
<g id="n-performance" class="b"><circle cx="187" cy="437" r="15"/><text x="186" y="443" font-size="19.4">performance</text></g>
<g id="n-employee" class="y"><circle cx="163" cy="520" r="15"/><text x="160" y="528" font-size="18.3">employee</text></g>
<g id="n-company" class="c"><circle cx="273" cy="197" r="16"/><text x="275" y="203" font-size="19.3">company</text></g>
<g id="n-benefit" class="c"><circle cx="372" cy="197" r="16"/><text x="372" y="202" font-size="20.3">benefit</text></g>
<g id="n-business" class="b"><circle cx="355" cy="303" r="17"/><text x="354" y="309" font-size="20.2">business</text></g>
<g id="n-innovation" class="c"><circle cx="404" cy="150" r="18"/><text x="406" y="157" font-size="19.7">innovation</text></g>
<g id="n-enjoyment" class="r"><circle cx="662" cy="530" r="18"/><text x="663" y="537" font-size="20.4">enjoyment</text></g>
<g id="n-app" class="r"><circle cx="585" cy="538" r="18"/><text x="585" y="542" font-size="21.3">app</text></g>
<g id="n-covid" class="o"><circle cx="485" cy="606" r="22"/><text x="485" y="612" font-size="20">covid</text></g>
<g id="n-quality" class="y"><circle cx="372" cy="592" r="22"/><text x="371" y="598" font-size="21.4">quality</text></g>
<g id="n-student" class="o"><circle cx="373" cy="712" r="24"/><text x="373" y="717" font-size="21.2">student</text></g>
<g id="n-customer" class="p"><circle cx="660" cy="318" r="27"/><text x="660" y="325" font-size="25.4">customer</text></g>
</g>
</svg>
